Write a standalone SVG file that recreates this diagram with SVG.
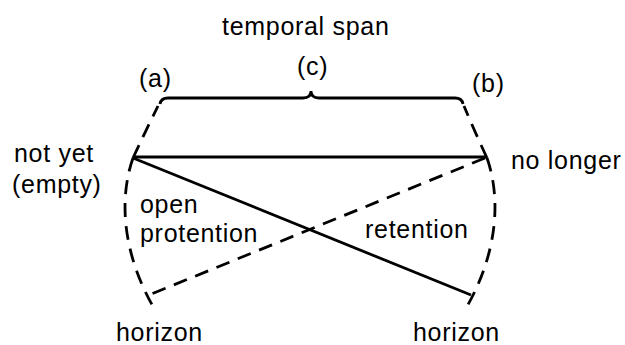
<svg xmlns="http://www.w3.org/2000/svg" width="625" height="345" viewBox="0 0 625 345">
  <style>
    text { font-family: "Liberation Sans", Arial, sans-serif; font-size: 25px; letter-spacing: 0.7px; fill: #000; }
    .solid { fill: none; stroke: #000; stroke-width: 2.8; stroke-linecap: butt; }
    .dash { fill: none; stroke: #000; stroke-width: 2.8; stroke-dasharray: 14 9; }
  </style>
  <rect width="625" height="345" fill="#fff"/>

  <g id="connectors">
    <!-- brace over the span -->
    <path class="solid" d="M160,104 Q161,98 168,98 L303,98 Q311,98 311,91 Q311,98 319,98 L455,98 Q462,98 463,104"/>
    <!-- dashed sides up to the brace -->
    <path class="dash" d="M133,158 Q146,130 158,106"/>
    <path class="dash" d="M487,158 Q474,130 464,106"/>
    <!-- dashed horizon arcs -->
    <path class="dash" d="M133,158 C120,195 120,250 155,310"/>
    <path class="dash" d="M487,158 C500,195 500,250 465,310"/>
    <!-- now line -->
    <path class="solid" d="M133,157 L487,157"/>
    <!-- protention to retention -->
    <path class="solid" d="M133,158 L471,295"/>
    <path class="dash" d="M485,158 L149,295"/>
  </g>

  <g id="title"><text x="222" y="35">temporal span</text></g>
  <g id="label-a"><text x="139" y="87">(a)</text></g>
  <g id="label-c"><text x="297" y="75">(c)</text></g>
  <g id="label-b"><text x="472" y="92">(b)</text></g>
  <g id="not-yet"><text x="14" y="162">not yet</text><text x="12" y="193">(empty)</text></g>
  <g id="no-longer"><text x="511" y="169">no longer</text></g>
  <g id="protention"><text x="140" y="213">open</text><text x="140" y="242">protention</text></g>
  <g id="retention"><text x="365" y="238">retention</text></g>
  <g id="horizon-left"><text x="116" y="341">horizon</text></g>
  <g id="horizon-right"><text x="413" y="341">horizon</text></g>
</svg>
